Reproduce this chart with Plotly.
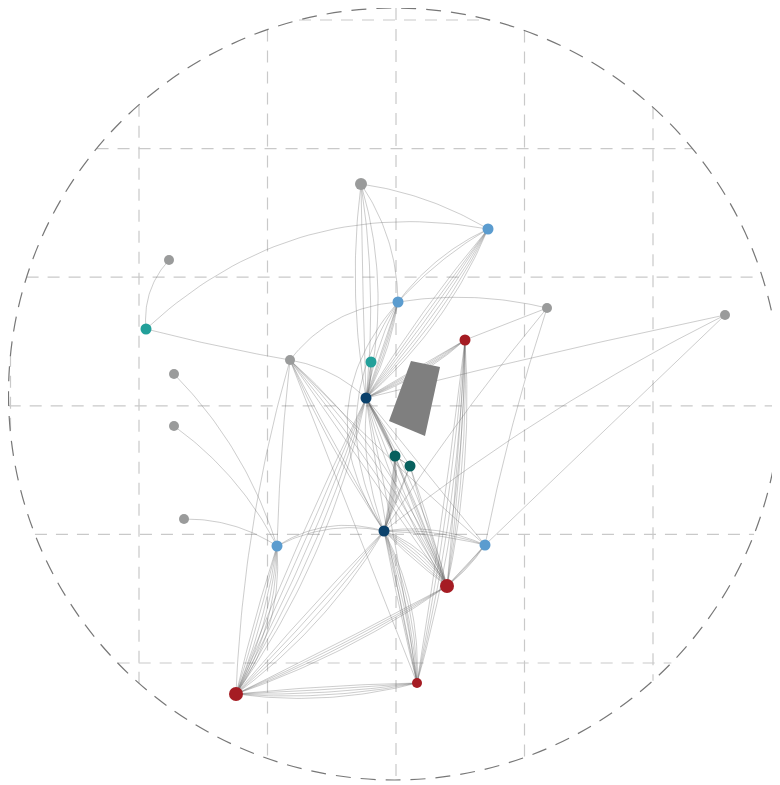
import numpy as np
import plotly.graph_objects as go

# node positions (pixel space of the 780x785 canvas)
node_x = [361, 488, 169, 146, 398, 547, 725, 465, 290, 371, 174,
          366, 174, 395, 410, 184, 277, 384, 485, 447, 236, 417]
node_y = [184, 229, 260, 329, 302, 308, 315, 340, 360, 362, 374,
          398, 426, 456, 466, 519, 546, 531, 545, 586, 694, 683]
node_group = ["gray", "blue", "gray", "teal", "blue", "gray", "gray", "red", "gray", "teal", "gray",
              "navy", "gray", "dteal", "dteal", "gray", "blue", "navy", "blue", "red", "red", "red"]
node_size = [12, 11, 10, 11, 11, 10, 10, 11, 10, 11, 10,
             11, 10, 11, 11, 10, 11, 11, 11, 14, 14, 10]

# edges: source, target (1-based), number of parallel links, base bend, bend spread
edge_src = [1, 1, 1, 2, 2, 2, 3, 4, 5, 5, 5, 5, 6, 6, 6, 7, 7, 7,
            8, 8, 8, 9, 9, 9, 9, 9, 9, 9, 10, 11, 13, 16,
            12, 12, 12, 12, 12, 12, 14, 15, 14, 15, 14,
            17, 17, 18, 18, 18, 18, 19, 20, 21]
edge_dst = [2, 12, 5, 4, 5, 12, 4, 9, 6, 9, 12, 18, 8, 18, 19, 12, 19, 18,
            12, 20, 22, 12, 17, 20, 19, 22, 21, 18, 12, 17, 17, 17,
            14, 15, 20, 21, 19, 22, 18, 18, 20, 20, 15,
            18, 21, 19, 20, 21, 22, 20, 21, 22]
edge_n = [1, 4, 1, 1, 2, 6, 1, 1, 1, 1, 4, 3, 1, 1, 1, 1, 1, 1,
          5, 4, 4, 1, 1, 4, 1, 1, 1, 2, 3, 1, 1, 1,
          6, 1, 4, 5, 1, 2, 6, 2, 2, 2, 2,
          2, 6, 3, 5, 4, 6, 4, 4, 5]
edge_bend = [-0.10, -0.03, -0.15, 0.25, 0.10, -0.04, 0.22, 0.02, -0.10, 0.22, -0.04, 0.30, 0.0, 0.03, 0.03, 0.01, 0.0, 0.05,
             -0.05, -0.04, -0.04, -0.15, 0.02, -0.06, 0.02, 0.0, 0.06, 0.03, -0.05, -0.12, -0.12, -0.15,
             -0.03, 0.0, 0.0, -0.04, 0.0, 0.0, -0.08, 0.0, 0.0, 0.0, 0.0,
             -0.20, -0.08, -0.10, -0.08, -0.04, -0.06, -0.04, -0.04, 0.04]
edge_spread = [0, 0.07, 0, 0, 0.05, 0.03, 0, 0, 0, 0, 0.03, 0.08, 0, 0, 0, 0, 0, 0,
               0.025, 0.02, 0.02, 0, 0, 0.04, 0, 0, 0, 0.03, 0.05, 0, 0, 0,
               0.015, 0, 0.05, 0.03, 0, 0.04, 0.025, 0.04, 0.04, 0.04, 0.05,
               0.05, 0.04, 0.05, 0.06, 0.04, 0.03, 0.03, 0.02, 0.03]

# polygon area
poly_x = [411, 440, 425, 389]
poly_y = [361, 367, 436, 421]

colors = {"gray": "#9a9b9b", "blue": "#5b9ccf", "teal": "#22a09a",
          "red": "#a51c23", "navy": "#0b416b", "dteal": "#07605e"}

W, H = 780, 785
OFF = 8  # page body margin
cx, cy, R = 394.5, 394, 386

fig = go.Figure()

# grid chords clipped to circle
shapes = []
grid_col = "#c9c9c9"
for gx in np.arange(10.5, 790, 128.5):
    d = gx - cx
    if abs(d) < R:
        h = np.sqrt(R ** 2 - d ** 2)
        shapes.append(dict(type="line", x0=gx, x1=gx, y0=cy - h, y1=cy + h,
                           line=dict(color=grid_col, width=1.2, dash="12px,9px"), layer="below"))
for gy in np.arange(20, 790, 128.6):
    d = gy - cy
    if abs(d) < R:
        w = np.sqrt(R ** 2 - d ** 2)
        shapes.append(dict(type="line", y0=gy, y1=gy, x0=cx - w, x1=cx + w,
                           line=dict(color=grid_col, width=1.2, dash="12px,9px"), layer="below"))
shapes.append(dict(type="circle", x0=cx - R, x1=cx + R, y0=cy - R, y1=cy + R,
                   line=dict(color="#777777", width=1.2, dash="15px,10px"), layer="below"))

# edges as quadratic curves
t = np.linspace(0, 1, 40)
ex, ey = [], []
for s, d, n, b, sp in zip(edge_src, edge_dst, edge_n, edge_bend, edge_spread):
    x0, y0 = node_x[s - 1], node_y[s - 1]
    x1, y1 = node_x[d - 1], node_y[d - 1]
    dx, dy = x1 - x0, y1 - y0
    for i in range(n):
        c = b + (i - (n - 1) / 2) * sp
        mx, my = (x0 + x1) / 2 - c * dy, (y0 + y1) / 2 + c * dx
        bx = (1 - t) ** 2 * x0 + 2 * (1 - t) * t * mx + t ** 2 * x1
        by = (1 - t) ** 2 * y0 + 2 * (1 - t) * t * my + t ** 2 * y1
        ex += list(bx) + [None]
        ey += list(by) + [None]

fig.add_trace(go.Scatter(x=ex, y=ey, mode="lines", hoverinfo="skip",
                         line=dict(color="rgba(95,95,95,0.45)", width=0.7)))

fig.add_trace(go.Scatter(x=poly_x + [poly_x[0]], y=poly_y + [poly_y[0]], mode="lines",
                         fill="toself", fillcolor="#7f7f7f", line=dict(width=0), hoverinfo="skip"))

fig.add_trace(go.Scatter(x=node_x, y=node_y, mode="markers",
                         marker=dict(size=node_size, color=[colors[g] for g in node_group],
                                     opacity=1, line=dict(width=0)),
                         hoverinfo="skip"))

fig.update_layout(
    width=W - OFF, height=H - OFF, margin=dict(l=0, r=0, t=0, b=0),
    plot_bgcolor="white", paper_bgcolor="white", showlegend=False,
    shapes=shapes,
    xaxis=dict(range=[OFF, W], visible=False, fixedrange=True),
    yaxis=dict(range=[H, OFF], visible=False, fixedrange=True),
)

fig.write_html("out.html")
